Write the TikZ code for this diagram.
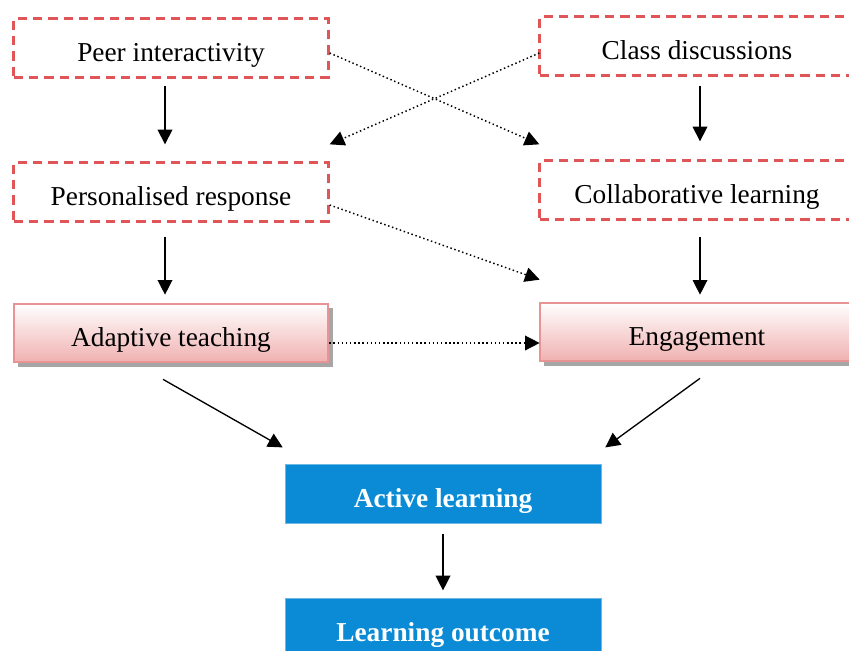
\documentclass[tikz,border=0pt]{standalone}
\usepackage{fontspec}
\setmainfont{Liberation Serif}
\usetikzlibrary{arrows.meta, calc, shadows}
\definecolor{dashred}{HTML}{E05555}
\definecolor{pinkline}{HTML}{E89494}
\definecolor{pinkfill}{HTML}{F0B0B0}
\definecolor{boxblue}{HTML}{0B8BD5}
\begin{document}
\begin{tikzpicture}[x=0.75pt, y=-0.75pt,
      every node/.style={font=\fontsize{20.5}{22}\selectfont, text height=21pt, text depth=0.5pt},
      dashbox/.style={draw=dashred, line width=2pt, dash pattern=on 7pt off 4.5pt,
        minimum width=236pt, minimum height=44pt},
      pinkbox/.style={draw=pinkline, line width=1.5pt, top color=white, bottom color=pinkfill,
        drop shadow={shadow xshift=3.5pt, shadow yshift=-3.5pt, fill=black!35, opacity=1},
        minimum width=236pt, minimum height=44pt},
      bluebox/.style={fill=boxblue, draw=boxblue!60, line width=0.4pt, text=white,
        font=\fontsize{20.5}{22}\selectfont\bfseries,
        minimum width=237pt, minimum height=44pt},
      arr/.style={-{Triangle[width=11pt,length=11pt]}, line width=1pt},
      dotarr/.style={-{Triangle[width=11pt,length=11pt]}, line width=1.1pt, dotted}]
  \useasboundingbox (0,0) rectangle (849,650);

  % upper boxes
  \node[dashbox] (peer) at (171,48) {Peer interactivity};
  \node[dashbox] (class) at (697,46) {Class discussions};
  \node[dashbox] (pers) at (171,192) {Personalised response};
  \node[dashbox] (collab) at (697,190) {Collaborative learning};

  % middle boxes
  \node[pinkbox] (adapt) at (171,333) {Adaptive teaching};
  \node[pinkbox] (engage) at (697,332) {Engagement};

  % lower boxes
  \node[bluebox] (active) at (443,494) {Active learning};
  \node[bluebox] (outcome) at (443,628) {Learning outcome};

  % solid arrows
  \draw[arr] ($(peer.south)+(-6,7)$) -- ($(pers.north)+(-6,-17)$);
  \draw[arr] ($(class.south)+(3,9)$) -- ($(collab.north)+(3,-18)$);
  \draw[arr] ($(pers.south)+(-6,14)$) -- ($(adapt.north)+(-6,-8)$);
  \draw[arr] ($(collab.south)+(3,16)$) -- ($(engage.north)+(3,-7)$);
  \draw[arr] ($(adapt.south)+(-8,16)$) -- ($(active.north west)+(-2,-17)$);
  \draw[arr] ($(engage.south)+(3,16)$) -- ($(active.north east)+(4,-17)$);
  \draw[arr] ($(active.south)+(0,10)$) -- ($(outcome.north)+(0,-8)$);

  % dotted arrows
  \draw[dotarr] ($(peer.east)+(0,5)$) -- ($(collab.north west)+(1,-15)$);
  \draw[dotarr] ($(class.west)+(1,7)$) -- ($(pers.north east)+(0,-17)$);
  \draw[dotarr] ($(pers.east)+(0,13)$) -- ($(engage.north west)+(1,-22)$);
  \draw[dotarr] ($(adapt.east)+(0,10)$) -- ($(engage.west)+(1,11)$);
\end{tikzpicture}
\end{document}
